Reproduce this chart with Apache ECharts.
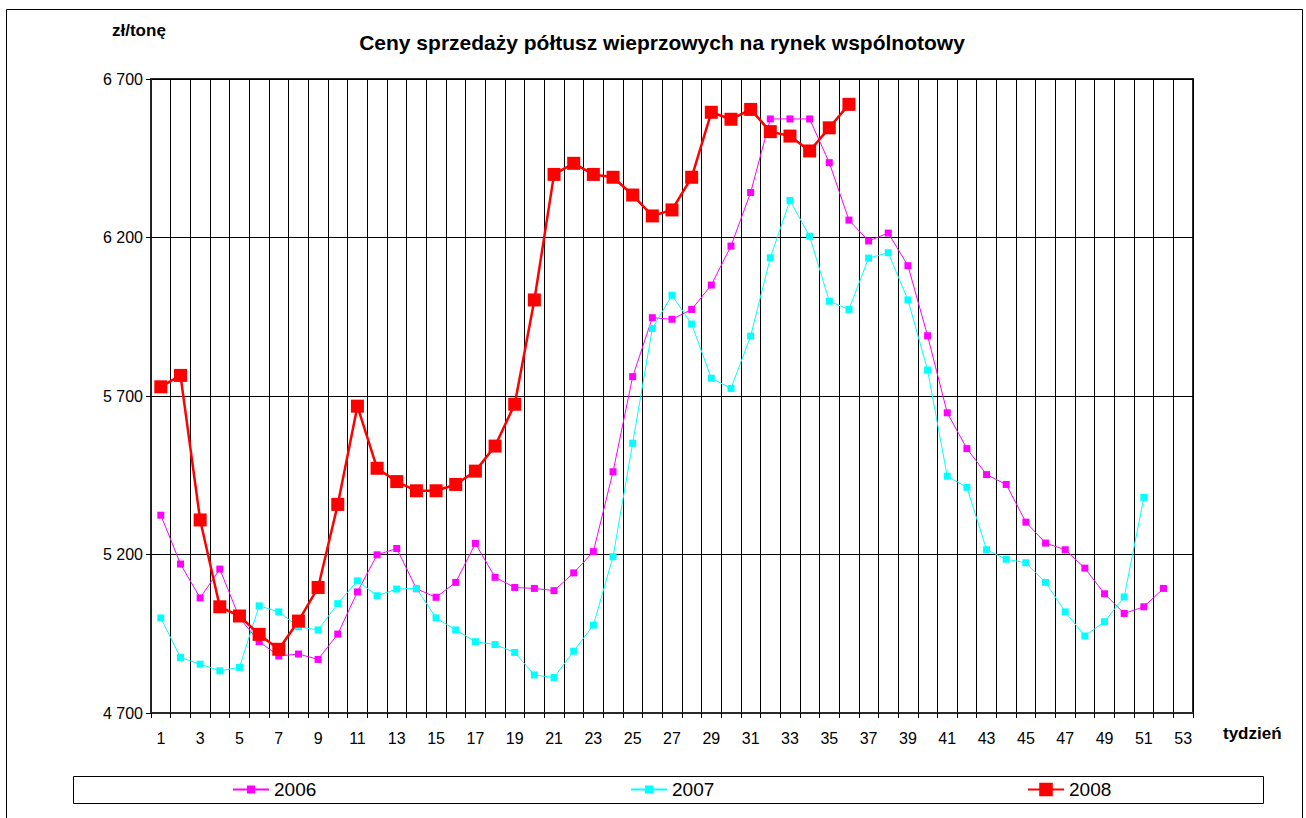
<!DOCTYPE html>
<html>
<head>
<meta charset="utf-8">
<script src="https://cdn.jsdelivr.net/npm/echarts@6/dist/echarts.min.js"></script>
<style>
html,body{margin:0;padding:0;background:#fff;}
#chart{width:1306px;height:818px;}
</style>
</head>
<body>
<div id="chart"></div>
<script>
// ---- data ----
const weeks = [];
for (let i = 1; i <= 53; i++) weeks.push(String(i));

const s2006 = [5324,5170,5063,5154,5000,4925,4880,4886,4869,4949,5082,5199,5219,5092,5065,5112,5235,5128,5096,5093,5086,5142,5209,5461,5761,5947,5942,5973,6050,6173,6342,6574,6574,6574,6436,6255,6189,6214,6111,5890,5647,5534,5452,5421,5302,5236,5215,5157,5076,5014,5035,5093,null];

const s2007 = [5000,4875,4854,4833,4844,5038,5019,4972,4962,5045,5117,5070,5091,5093,5000,4962,4925,4916,4891,4820,4812,4895,4977,5193,5551,5913,6018,5927,5756,5724,5889,6136,6317,6204,5999,5973,6135,6152,6003,5782,5447,5412,5215,5185,5174,5112,5019,4943,4988,5066,5380,null,null];

const s2008 = [5729,5765,5309,5035,5006,4948,4901,4990,5096,5358,5668,5472,5430,5401,5401,5421,5463,5542,5674,6003,6399,6434,6399,6390,6334,6268,6287,6390,6595,6573,6604,6534,6520,6473,6546,6620,null,null,null,null,null,null,null,null,null,null,null,null,null,null,null,null,null];

const yTicks = [4700, 5200, 5700, 6200, 6700];
const seriesNames = ['2006', '2007', '2008'];

const FONT = '"Liberation Sans", Arial, sans-serif';

const chart = echarts.init(document.getElementById('chart'), null, {renderer: 'svg'});

function fmt(v) {
  return String(v).replace(/\B(?=(\d{3})+(?!\d))/g, ' ');
}

const option = {
  backgroundColor: '#ffffff',
  animation: false,
  title: {
    text: 'Ceny sprzedaży półtusz wieprzowych na rynek wspólnotowy',
    left: 657,
    textAlign: 'center',
    top: 27,
    textStyle: {fontFamily: FONT, fontWeight: 'bold', fontSize: 21, color: '#000'}
  },
  grid: {
    left: 151, right: 113, top: 79, bottom: 105,
    show: true, borderColor: '#2a2a2a', borderWidth: 2, backgroundColor: 'transparent'
  },
  legend: [
    {
      data: ['2006'], left: 232, top: 780, padding: 0,
      itemWidth: 36, itemHeight: 10,
      textStyle: {fontFamily: FONT, fontSize: 19, color: '#000'}
    },
    {
      data: ['2007'], left: 630, top: 780, padding: 0,
      itemWidth: 36, itemHeight: 10,
      textStyle: {fontFamily: FONT, fontSize: 19, color: '#000'}
    },
    {
      data: ['2008'], left: 1027, top: 780, padding: 0,
      itemWidth: 36, itemHeight: 17,
      textStyle: {fontFamily: FONT, fontSize: 19, color: '#000'}
    }
  ],
  xAxis: {
    type: 'category',
    data: weeks,
    boundaryGap: true,
    axisLine: {show: true, lineStyle: {color: '#2a2a2a', width: 2}},
    axisTick: {show: true, interval: 0, length: 5, lineStyle: {color: '#000', width: 1}},
    axisLabel: {interval: 1, margin: 17, fontFamily: FONT, fontSize: 16, color: '#000'},
    splitLine: {show: true, interval: 0, lineStyle: {color: '#000', width: 1}}
  },
  yAxis: {
    type: 'value',
    min: yTicks[0],
    max: yTicks[yTicks.length - 1],
    interval: yTicks[1] - yTicks[0],
    axisLine: {show: true, lineStyle: {color: '#2a2a2a', width: 1.5}},
    axisTick: {show: true, length: 5, lineStyle: {color: '#000'}},
    axisLabel: {margin: 8, fontFamily: FONT, fontSize: 16, color: '#000', formatter: fmt},
    splitLine: {show: true, lineStyle: {color: '#000', width: 1}}
  },
  graphic: [
    {type: 'rect', shape: {x: 6.5, y: 9.5, width: 1296, height: 830}, style: {fill: 'none', stroke: '#000', lineWidth: 1}, silent: true},
    {type: 'rect', shape: {x: 73.5, y: 776.5, width: 1190, height: 27}, style: {fill: 'none', stroke: '#000', lineWidth: 1}, silent: true, z: -1},
    {type: 'text', left: 112, top: 22, style: {text: 'zł/tonę', font: 'bold 17px "Liberation Sans", Arial, sans-serif', fill: '#000'}},
    {type: 'text', left: 1223, top: 725, style: {text: 'tydzień', font: 'bold 17px "Liberation Sans", Arial, sans-serif', fill: '#000'}}
  ],
  series: [
    {
      name: seriesNames[0], type: 'line', data: s2006,
      symbol: 'rect', symbolSize: 7,
      lineStyle: {color: '#FF00FF', width: 1},
      itemStyle: {color: '#FF00FF'},
      connectNulls: false
    },
    {
      name: seriesNames[1], type: 'line', data: s2007,
      symbol: 'rect', symbolSize: 7,
      lineStyle: {color: '#00FFFF', width: 1},
      itemStyle: {color: '#00FFFF'},
      connectNulls: false
    },
    {
      name: seriesNames[2], type: 'line', data: s2008,
      symbol: 'rect', symbolSize: 13,
      lineStyle: {color: '#FF0000', width: 2.5},
      itemStyle: {color: '#FF0000'},
      connectNulls: false
    }
  ]
};
chart.setOption(option);
</script>
</body>
</html>
